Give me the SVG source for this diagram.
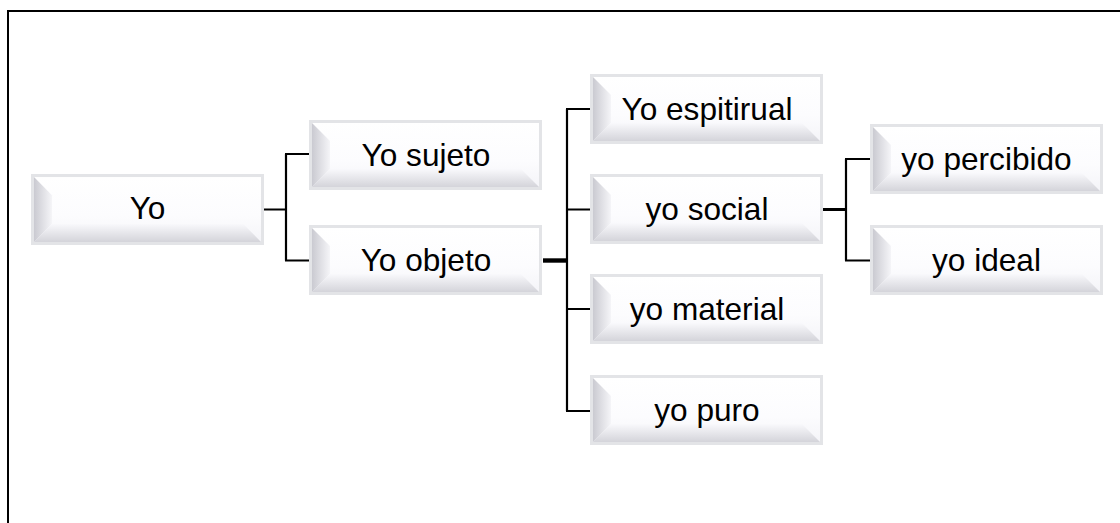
<svg xmlns="http://www.w3.org/2000/svg" width="1120" height="523" viewBox="0 0 1120 523">
<style>
.t{font-family:"Liberation Sans",Arial,sans-serif;font-size:31.6px;fill:#000;text-anchor:middle}
.ln{fill:none;stroke:#000;stroke-width:2.2}
.frame{fill:none;stroke:#000;stroke-width:2}
.outer{fill:#e3e4e7}
.face{fill:url(#gFace)}
.lb{fill:url(#gLeft)}
.bb{fill:url(#gBot)}
</style>
<defs>
<linearGradient id="gFace" x1="0" y1="0" x2="0" y2="1">
<stop offset="0" stop-color="#ffffff"/>
<stop offset="0.6" stop-color="#fcfcfe"/>
<stop offset="1" stop-color="#f4f4f8"/>
</linearGradient>
<linearGradient id="gLeft" x1="0" y1="0" x2="1" y2="0">
<stop offset="0" stop-color="#cacad1"/>
<stop offset="1" stop-color="#f5f5f8"/>
</linearGradient>
<linearGradient id="gBot" x1="0" y1="0" x2="0" y2="1">
<stop offset="0" stop-color="#f9f9fc"/>
<stop offset="1" stop-color="#d4d4da"/>
</linearGradient>
<g id="box">
<rect class="outer" x="0" y="0" width="233" height="70"/>
<rect class="face" x="3" y="3" width="227" height="64"/>
<polygon class="lb" points="3,3 21,21 21,49 3,67"/>
<polygon class="bb" points="3,67 21,49 212,49 230,67"/>
</g>
</defs>

<path class="frame" d="M1120,11 H8 V523"/>

<g id="connectors">
<path class="ln" d="M264,209.5 H286 M286,154 V260.5 M285,154 H309 M285,260.5 H309"/>
<path class="ln" d="M543,260.5 H567" style="stroke-width:4.4"/>
<path class="ln" d="M567,109 V411 M566,109 H591 M566,209.5 H591 M566,309 H591 M566,411 H591"/>
<path class="ln" d="M823,209.5 H846" style="stroke-width:3"/>
<path class="ln" d="M846,159 V260.5 M845,159 H870 M845,260.5 H870"/>
</g>

<g id="n-yo"><use href="#box" transform="translate(31,174) scale(1,1.014)"/><text class="t" x="147.5" y="218.5">Yo</text></g>
<g id="n-sujeto"><use href="#box" transform="translate(309,120)"/><text class="t" x="426" y="165.5">Yo sujeto</text></g>
<g id="n-objeto"><use href="#box" transform="translate(309,225)"/><text class="t" x="426" y="270.5">Yo objeto</text></g>
<g id="n-espitirual"><use href="#box" transform="translate(590,74)"/><text class="t" x="707" y="119.5">Yo espitirual</text></g>
<g id="n-social"><use href="#box" transform="translate(590,174)"/><text class="t" x="707" y="219.5">yo social</text></g>
<g id="n-material"><use href="#box" transform="translate(590,274)"/><text class="t" x="707" y="319.5">yo material</text></g>
<g id="n-puro"><use href="#box" transform="translate(590,375)"/><text class="t" x="707" y="420.5">yo puro</text></g>
<g id="n-percibido"><use href="#box" transform="translate(870,124)"/><text class="t" x="986.5" y="169.5">yo percibido</text></g>
<g id="n-ideal"><use href="#box" transform="translate(870,225)"/><text class="t" x="986.5" y="270.5">yo ideal</text></g>
</svg>
